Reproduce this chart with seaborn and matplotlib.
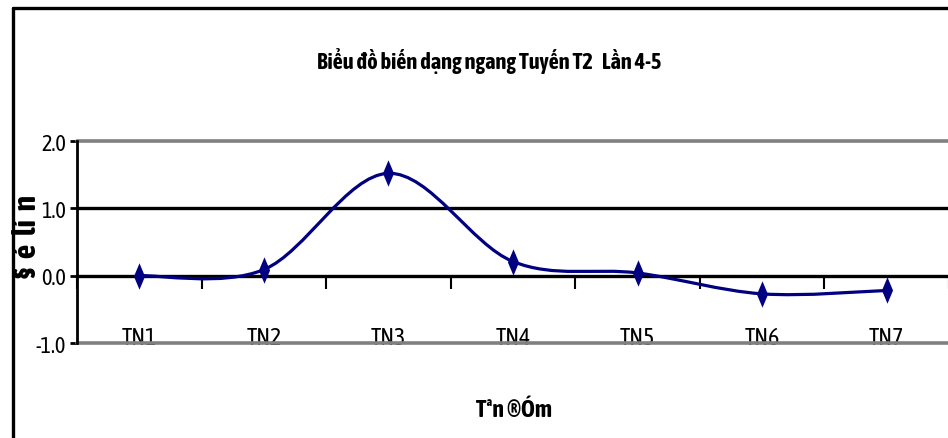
import numpy as np
import pandas as pd
import seaborn as sns
import matplotlib
matplotlib.use("Agg")
import matplotlib.pyplot as plt
from matplotlib import font_manager
from matplotlib.path import Path
from matplotlib.patches import PathPatch
from matplotlib.lines import Line2D

# Survey points and horizontal deformation values
points = ["TN1", "TN2", "TN3", "TN4", "TN5", "TN6", "TN7"]
values = [0.0, 0.09, 1.52, 0.21, 0.04, -0.27, -0.22]
y_ticks = [-1.0, 0.0, 1.0, 2.0]
y_tick_labels = ["-1.0", "0.0", "1.0", "2.0"]

title = "Biểu đồ biến dạng ngang Tuyến T2   Lần 4-5"
x_label = "Tªn ®Óm"
y_label = "§  é  lí  n"

sns.set_theme(style="white")

# Prefer a narrow sans face, ideally one that also ships a bold weight
fonts = font_manager.fontManager.ttflist
narrow_names = sorted({f.name for f in fonts if ("Narrow" in f.name or "Condensed" in f.name)})
def has_bold(name):
    return any(f.name == name and (f.weight in ("bold", 700) or
               (isinstance(f.weight, int) and f.weight >= 600)) for f in fonts)
preferred = [n for n in narrow_names if "Liberation" in n] + \
            [n for n in narrow_names if has_bold(n)] + narrow_names
narrow = preferred[:1] + ["Liberation Sans", "DejaVu Sans"]
plt.rcParams["font.family"] = narrow
plt.rcParams["text.color"] = "black"
plt.rcParams["xtick.color"] = "black"
plt.rcParams["ytick.color"] = "black"

df = pd.DataFrame({"pos": np.arange(len(points)), "value": values})

fig = plt.figure(figsize=(9.48, 4.39), dpi=100)
ax = fig.add_axes([0.0812, 0.2164, 0.9198, 0.4601])

line_color = "#000080"

# Smoothed line through the points (cubic Bezier segments, Catmull-Rom style)
P = df[["pos", "value"]].to_numpy(dtype=float)
ext = np.vstack([P[0], P, P[-1]])
verts = [tuple(P[0])]
codes = [Path.MOVETO]
for i in range(len(P) - 1):
    p0, p1, p2, p3 = ext[i], ext[i + 1], ext[i + 2], ext[i + 3]
    c1 = p1 + (p2 - p0) / 6.0
    c2 = p2 - (p3 - p1) / 6.0
    verts += [tuple(c1), tuple(c2), tuple(p2)]
    codes += [Path.CURVE4] * 3
ax.add_patch(PathPatch(Path(verts, codes), facecolor="none",
                       edgecolor=line_color, lw=2.3, zorder=4))

# Tall diamond markers
diamond = Path([(0, 1), (0.42, 0), (0, -1), (-0.42, 0), (0, 1)],
               [Path.MOVETO, Path.LINETO, Path.LINETO, Path.LINETO, Path.CLOSEPOLY])
sns.scatterplot(data=df, x="pos", y="value", marker=diamond, s=19 ** 2,
                color=line_color, edgecolor=line_color, linewidth=0, ax=ax, zorder=5)

ax.set_xlim(-0.5, len(points) - 0.5)
ax.set_ylim(-1.0, 2.0)

# Horizontal reference lines
ax.axhline(1.0, color="black", lw=2.4, zorder=2)
ax.axhline(2.0, color="#808080", lw=2.6, zorder=2, clip_on=False)
ax.axhline(-1.0, color="#808080", lw=2.6, zorder=2, clip_on=False)

for s in ["top", "right"]:
    ax.spines[s].set_visible(False)
ax.spines["left"].set_color("black")
ax.spines["left"].set_linewidth(2.0)
ax.spines["bottom"].set_position(("data", 0.0))
ax.spines["bottom"].set_color("black")
ax.spines["bottom"].set_linewidth(2.4)

# Y axis ticks
ax.set_yticks(y_ticks)
ax.set_yticklabels(y_tick_labels, fontsize=16, family=narrow, color="black")
ax.tick_params(axis="y", direction="out", length=5, width=2, color="black",
               left=True, pad=3)

# Category labels sit low in the plot; tick marks at category boundaries
ax.set_xticks(df["pos"])
ax.set_xticklabels(points, fontsize=17, family=narrow, color="black")
ax.tick_params(axis="x", which="major", length=0, pad=36)
ax.set_xticks(np.arange(len(points) + 1) - 0.5, minor=True)
ax.tick_params(axis="x", which="minor", direction="out", length=9, width=1.5,
               color="black", bottom=True)

ax.set_xlabel("")
ax.set_ylabel("")

fig.text(0.516, 0.862, title, ha="center", va="center", fontsize=16,
         fontweight="bold", family=narrow, color="black")
fig.text(0.542, 0.066, x_label, ha="center", va="center", fontsize=17,
         fontweight="bold", family=narrow, color="black")
fig.text(0.029, 0.462, y_label, ha="center", va="center", rotation=90,
         fontsize=23, fontweight="bold", family=narrow, color="black")

# Chart frame (top and left edges)
fig.add_artist(Line2D([0.0137, 1.0], [0.979, 0.979], transform=fig.transFigure,
                      color="black", lw=2.4))
fig.add_artist(Line2D([0.0137, 0.0137], [0.0, 0.979], transform=fig.transFigure,
                      color="black", lw=2.4))

fig.savefig("out.png", dpi=100)
